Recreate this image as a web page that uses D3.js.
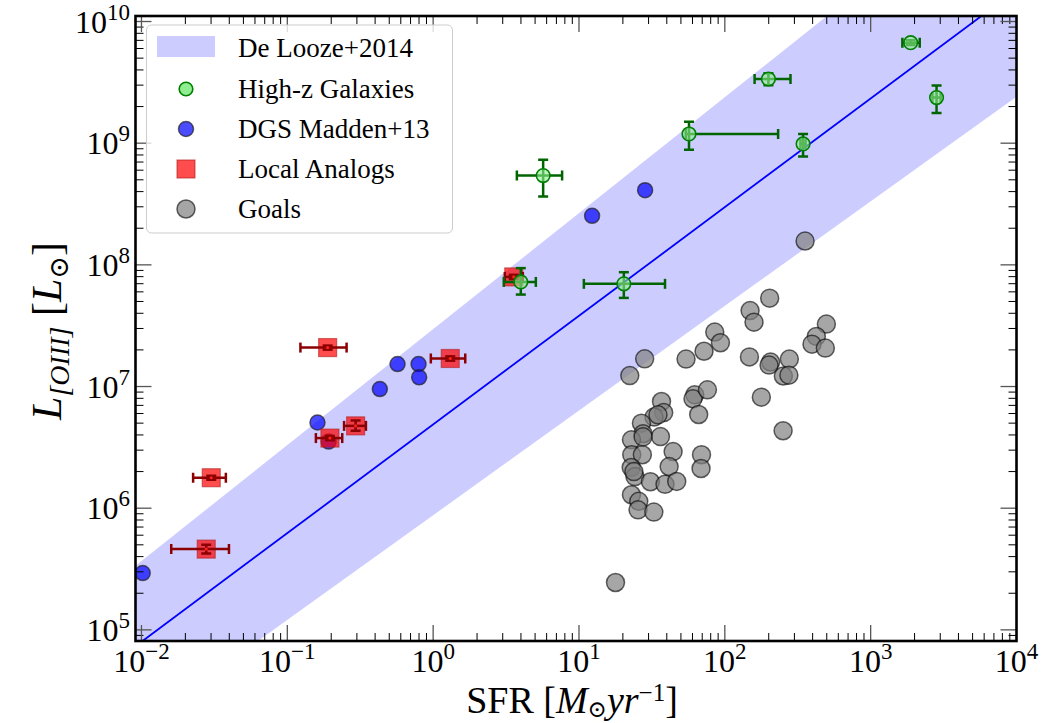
<!DOCTYPE html>
<html>
<head>
<meta charset="utf-8">
<script src="https://cdn.jsdelivr.net/npm/d3@7"></script>
<style>
  body { margin: 0; background: #ffffff; }
  text { font-family: "Liberation Serif", "DejaVu Serif", serif; fill: #000; }
</style>
</head>
<body>
<svg id="chart" width="1056" height="723"></svg>
<script>
// ---- axis limits and tick labels ----
const sfrLimits = [0.0091, 1e4];
const lumLimits = [8.1e4, 1.11e10];
const sfrTicks = [1e-2, 1e-1, 1e0, 1e1, 1e2, 1e3, 1e4];
const sfrTickExp = ["\u22122", "\u22121", "0", "1", "2", "3", "4"];
const lumTicks = [1e5, 1e6, 1e7, 1e8, 1e9, 1e10];
const lumTickExp = ["5", "6", "7", "8", "9", "10"];

// ---- De Looze+2014 relation: log L = intercept + slope * log SFR ----
const relationFit = [0.893, 6.688];     // [slope, intercept]
const relationUpper = [0.953, 7.472];
const relationLower = [0.860, 5.942];

// ---- High-z galaxies ----
const highzSFR   = [1880, 199, 2830, 56.8, 344, 5.68, 3.99, 20.3];
const highzL     = [6.7e9, 3.37e9, 2.37e9, 1.19e9, 9.86e8, 5.42e8, 7.24e7, 6.98e7];
const highzSFRLo = [1650, 160, 2650, 54, 330, 3.75, 3.05, 10.8];
const highzSFRHi = [2170, 282, 3020, 232, 358, 7.66, 5.06, 38.9];
const highzLLo   = [6.4e9, 3.0e9, 1.77e9, 8.85e8, 7.77e8, 3.64e8, 5.7e7, 5.35e7];
const highzLHi   = [7.0e9, 3.75e9, 2.98e9, 1.5e9, 1.19e9, 7.3e8, 9.4e7, 8.7e7];

// ---- DGS Madden+13 ----
const dgsSFR = [28.4, 12.3, 0.0102, 0.570, 0.794, 0.802, 0.431, 0.161, 0.192];
const dgsL   = [4.11e8, 2.53e8, 2.93e5, 1.53e7, 1.53e7, 1.19e7, 9.53e6, 5.06e6, 3.53e6];

// ---- Local analogs ----
const localSFR   = [0.189, 1.31, 0.294, 0.196, 0.0301, 0.0278, 3.57];
const localL     = [2.09e7, 1.70e7, 4.75e6, 3.77e6, 1.78e6, 4.61e5, 7.96e7];
const localSFRLo = [0.123, 0.964, 0.245, 0.157, 0.0226, 0.016, 3.10];
const localSFRHi = [0.255, 1.66, 0.346, 0.238, 0.0379, 0.0398, 4.12];
const localLLo   = [2.01e7, 1.63e7, 4.33e6, 3.62e6, 1.71e6, 4.25e5, 7.65e7];
const localLHi   = [2.17e7, 1.77e7, 5.26e6, 3.92e6, 1.85e6, 5.0e5, 8.28e7];

// ---- GOALS ----
const goalsSFR = [203, 149, 158.5, 497, 424, 396, 489, 85.3, 93.3, 72.0, 54.2, 147.5, 206, 201,
  277, 252, 275, 178, 251, 28.2, 22.3, 36.8, 62.2, 60.5, 76.0, 66.2, 38.1, 32.7, 26.8, 27.5,
  36.2, 22.9, 23.0, 27.2, 44.2, 69.2, 68.7, 41.5, 22.8, 24.2, 30.9, 38.9, 46.8, 22.9, 25.7,
  25.4, 32.6, 17.8, 355, 23.8, 34.8, 27.5];
const goalsL = [5.32e7, 4.21e7, 3.38e7, 3.26e7, 2.58e7, 2.23e7, 2.07e7, 2.80e7, 2.29e7, 1.95e7,
  1.68e7, 1.75e7, 1.59e7, 1.50e7, 1.68e7, 1.22e7, 1.24e7, 8.18e6, 4.33e6, 1.69e7, 1.23e7,
  7.53e6, 8.55e6, 7.93e6, 9.40e6, 5.89e6, 6.11e6, 5.61e6, 5.00e6, 4.09e6, 3.88e6, 3.65e6,
  2.75e6, 2.75e6, 2.92e6, 2.75e6, 2.12e6, 2.20e6, 2.16e6, 1.82e6, 1.65e6, 1.57e6, 1.66e6,
  1.29e6, 1.14e6, 9.70e5, 9.29e5, 2.45e5, 1.57e8, 2.0e6, 5.85e6, 3.86e6];

// ---- legend entries ----
const legendLabels = ["De Looze+2014", "High-z Galaxies", "DGS Madden+13", "Local Analogs", "Goals"];

// ---- layout ----
const plot = { left: 135.5, right: 1016.5, top: 16, bottom: 641 };
const svg = d3.select("#chart");

const x = d3.scaleLog().domain(sfrLimits).range([plot.left, plot.right]);
const y = d3.scaleLog().domain(lumLimits).range([plot.bottom, plot.top]);

svg.append("defs").append("clipPath").attr("id", "plotClip")
  .append("rect")
  .attr("x", plot.left).attr("y", plot.top)
  .attr("width", plot.right - plot.left).attr("height", plot.bottom - plot.top);

const data = svg.append("g").attr("clip-path", "url(#plotClip)");

// relation band and line
const relL = (p, s) => Math.pow(10, p[1] + p[0] * Math.log10(s));
const bandX = [sfrLimits[0], sfrLimits[1]];
data.append("path")
  .datum(bandX)
  .attr("d", d3.area()
    .x(s => x(s))
    .y0(s => y(relL(relationLower, s)))
    .y1(s => y(relL(relationUpper, s))))
  .attr("fill", "#0000ff").attr("fill-opacity", 0.2);

data.append("path")
  .datum(bandX)
  .attr("d", d3.line().x(s => x(s)).y(s => y(relL(relationFit, s))))
  .attr("fill", "none").attr("stroke", "#0000ff").attr("stroke-width", 1.8);

// GOALS
data.append("g").selectAll("circle")
  .data(d3.range(goalsSFR.length))
  .join("circle")
  .attr("cx", i => x(goalsSFR[i]))
  .attr("cy", i => y(goalsL[i]))
  .attr("r", 9)
  .attr("fill", "#808080").attr("fill-opacity", 0.7)
  .attr("stroke", "#000").attr("stroke-opacity", 0.6).attr("stroke-width", 1.5);

// DGS
data.append("g").selectAll("circle")
  .data(d3.range(dgsSFR.length))
  .join("circle")
  .attr("cx", i => x(dgsSFR[i]))
  .attr("cy", i => y(dgsL[i]))
  .attr("r", 7.5)
  .attr("fill", "#0000ff").attr("fill-opacity", 0.7)
  .attr("stroke", "#222").attr("stroke-opacity", 0.7).attr("stroke-width", 1.5);

// error bar helper
function errorBars(g, sx, sy, sLo, sHi, lLo, lHi, color, cap) {
  const idx = d3.range(sx.length);
  const eg = g.append("g").attr("stroke", color).attr("stroke-width", 2.5).attr("fill", "none");
  idx.forEach(i => {
    const cx = x(sx[i]), cy = y(sy[i]);
    const x0 = x(sLo[i]), x1 = x(sHi[i]);
    const y0 = y(lLo[i]), y1 = y(lHi[i]);
    eg.append("line").attr("x1", x0).attr("x2", x1).attr("y1", cy).attr("y2", cy);
    eg.append("line").attr("x1", cx).attr("x2", cx).attr("y1", y0).attr("y2", y1);
    eg.append("line").attr("x1", x0).attr("x2", x0).attr("y1", cy - cap).attr("y2", cy + cap);
    eg.append("line").attr("x1", x1).attr("x2", x1).attr("y1", cy - cap).attr("y2", cy + cap);
    eg.append("line").attr("x1", cx - cap).attr("x2", cx + cap).attr("y1", y0).attr("y2", y0);
    eg.append("line").attr("x1", cx - cap).attr("x2", cx + cap).attr("y1", y1).attr("y2", y1);
  });
}

// Local analogs
const localG = data.append("g");
localG.selectAll("rect")
  .data(d3.range(localSFR.length))
  .join("rect")
  .attr("x", i => x(localSFR[i]) - 9)
  .attr("y", i => y(localL[i]) - 9)
  .attr("width", 18).attr("height", 18)
  .attr("fill", "#ff0000").attr("fill-opacity", 0.7)
  .attr("stroke", "#b02020").attr("stroke-opacity", 0.6).attr("stroke-width", 1.2);
errorBars(localG, localSFR, localL, localSFRLo, localSFRHi, localLLo, localLHi, "#8b0000", 5);
localG.append("g").selectAll("circle")
  .data(d3.range(localSFR.length))
  .join("circle")
  .attr("cx", i => x(localSFR[i])).attr("cy", i => y(localL[i]))
  .attr("r", 1.6).attr("fill", "#ff2020");

// High-z galaxies
const highG = data.append("g");
errorBars(highG, highzSFR, highzL, highzSFRLo, highzSFRHi, highzLLo, highzLHi, "#006400", 5);
highG.append("g").selectAll("circle")
  .data(d3.range(highzSFR.length))
  .join("circle")
  .attr("cx", i => x(highzSFR[i])).attr("cy", i => y(highzL[i]))
  .attr("r", 6.8)
  .attr("fill", "#90ee90").attr("fill-opacity", 0.6)
  .attr("stroke", "#008000").attr("stroke-width", 1.6);

// ---- ticks (inward, all four sides) ----
const tickG = svg.append("g");
const majorLen = 16, minorLen = 8;
function minorValues(lim) {
  const out = [];
  for (let d = -4; d <= 11; d++) {
    for (let k = 2; k <= 9; k++) {
      const v = k * Math.pow(10, d);
      if (v > lim[0] && v < lim[1]) out.push(v);
    }
  }
  return out;
}
function drawXTicks(vals, len, color, width) {
  vals.forEach(v => {
    const px = x(v);
    tickG.append("line").attr("x1", px).attr("x2", px)
      .attr("y1", plot.bottom).attr("y2", plot.bottom - len)
      .attr("stroke", color).attr("stroke-width", width);
    tickG.append("line").attr("x1", px).attr("x2", px)
      .attr("y1", plot.top).attr("y2", plot.top + len)
      .attr("stroke", color).attr("stroke-width", width);
  });
}
function drawYTicks(vals, len, color, width) {
  vals.forEach(v => {
    const py = y(v);
    tickG.append("line").attr("x1", plot.left).attr("x2", plot.left + len)
      .attr("y1", py).attr("y2", py)
      .attr("stroke", color).attr("stroke-width", width);
    tickG.append("line").attr("x1", plot.right).attr("x2", plot.right - len)
      .attr("y1", py).attr("y2", py)
      .attr("stroke", color).attr("stroke-width", width);
  });
}
drawXTicks(minorValues(sfrLimits), minorLen, "#000", 1);
drawYTicks(minorValues(lumLimits), minorLen, "#000", 1);
drawXTicks(sfrTicks.filter(v => v < sfrLimits[1]), majorLen, "#555", 1.3);
drawYTicks(lumTicks, majorLen, "#555", 1.3);

// frame
svg.append("rect")
  .attr("x", plot.left).attr("y", plot.top)
  .attr("width", plot.right - plot.left).attr("height", plot.bottom - plot.top)
  .attr("fill", "none").attr("stroke", "#000").attr("stroke-width", 2.6);

// ---- tick labels ----
const labelSize = 32, expSize = 23;
sfrTicks.forEach((v, i) => {
  const t = svg.append("text")
    .attr("x", x(v)).attr("y", 672)
    .attr("text-anchor", "middle")
    .attr("font-size", labelSize);
  t.append("tspan").text("10");
  t.append("tspan").attr("dy", -13).attr("font-size", expSize).text(sfrTickExp[i]);
});
lumTicks.forEach((v, i) => {
  const t = svg.append("text")
    .attr("x", 130).attr("y", y(v) + 11)
    .attr("text-anchor", "end")
    .attr("font-size", labelSize);
  t.append("tspan").text("10");
  t.append("tspan").attr("dy", -13).attr("font-size", expSize).text(lumTickExp[i]);
});

// ---- axis titles ----
const xt = svg.append("text")
  .attr("x", 572).attr("y", 713)
  .attr("text-anchor", "middle")
  .attr("font-size", 38);
xt.append("tspan").text("SFR [");
xt.append("tspan").attr("font-style", "italic").text("M");
xt.append("tspan").attr("font-size", 23).attr("dy", 4).text("\u2299");
xt.append("tspan").attr("font-style", "italic").attr("dy", -4).text("yr");
xt.append("tspan").attr("font-size", 25).attr("dy", -12).text("\u22121");
xt.append("tspan").attr("dy", 12).text("]");

const yt = svg.append("text")
  .attr("transform", "translate(61,331) rotate(-90)")
  .attr("text-anchor", "middle")
  .attr("font-size", 42);
yt.append("tspan").attr("font-style", "italic").text("L");
yt.append("tspan").attr("font-size", 28).attr("font-style", "italic").attr("dy", 8).text("[OIII]");
yt.append("tspan").attr("dy", -8).text(" [");
yt.append("tspan").attr("font-style", "italic").text("L");
yt.append("tspan").attr("font-size", 27).attr("dy", 7).text("\u2299");
yt.append("tspan").attr("dy", -7).text("]");

// ---- legend ----
const leg = svg.append("g");
leg.append("rect")
  .attr("x", 146.5).attr("y", 25).attr("width", 306).attr("height", 208).attr("rx", 5)
  .attr("fill", "#fff").attr("fill-opacity", 0.8)
  .attr("stroke", "#cccccc").attr("stroke-width", 1);
const rowY = [48, 89, 129, 169, 209];
leg.append("rect").attr("x", 157).attr("y", 36).attr("width", 58).attr("height", 21)
  .attr("fill", "#0000ff").attr("fill-opacity", 0.2);
leg.append("circle").attr("cx", 186).attr("cy", rowY[1]).attr("r", 6.8)
  .attr("fill", "#90ee90").attr("stroke", "#008000").attr("stroke-width", 1.6);
leg.append("circle").attr("cx", 186).attr("cy", rowY[2]).attr("r", 7.5)
  .attr("fill", "#0000ff").attr("fill-opacity", 0.7)
  .attr("stroke", "#222").attr("stroke-opacity", 0.7).attr("stroke-width", 1.5);
leg.append("rect").attr("x", 177).attr("y", rowY[3] - 9).attr("width", 18).attr("height", 18)
  .attr("fill", "#ff0000").attr("fill-opacity", 0.7)
  .attr("stroke", "#b02020").attr("stroke-opacity", 0.6).attr("stroke-width", 1.2);
leg.append("circle").attr("cx", 186).attr("cy", rowY[4]).attr("r", 9)
  .attr("fill", "#808080").attr("fill-opacity", 0.7)
  .attr("stroke", "#000").attr("stroke-opacity", 0.6).attr("stroke-width", 1.5);
legendLabels.forEach((lab, i) => {
  leg.append("text").attr("x", 238).attr("y", rowY[i] + 9)
    .attr("font-size", 27).text(lab);
});
</script>
</body>
</html>
